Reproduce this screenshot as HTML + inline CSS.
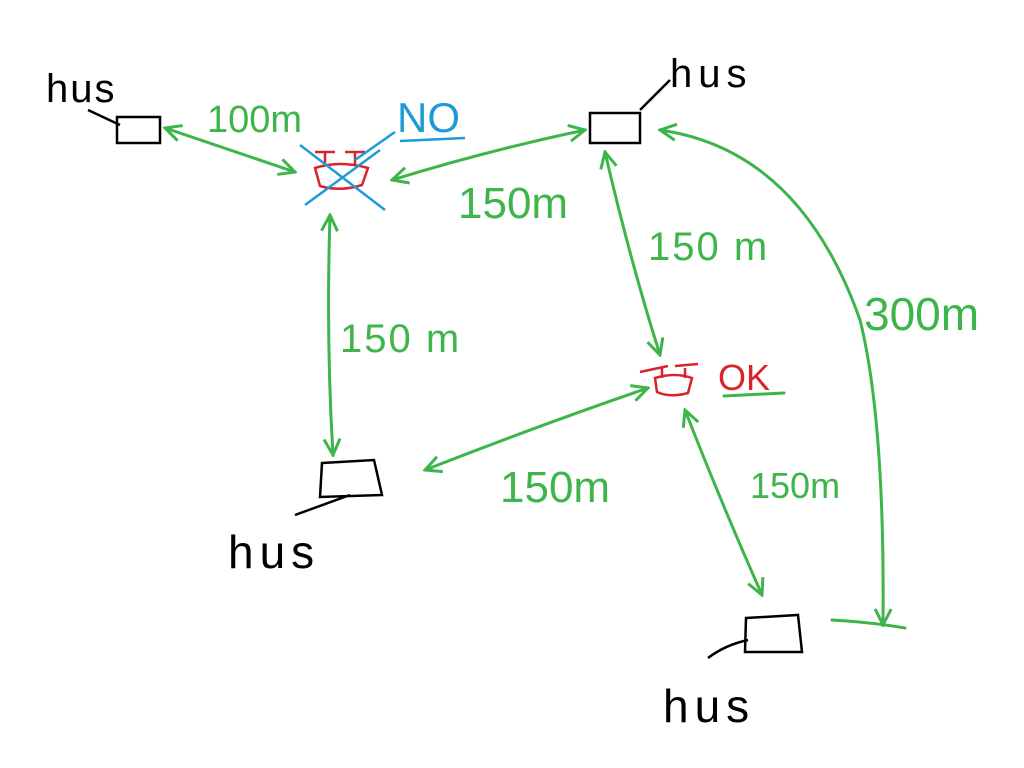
<!DOCTYPE html>
<html><head><meta charset="utf-8"><style>
html,body{margin:0;padding:0;background:#fff;width:1024px;height:768px;overflow:hidden}
text{font-family:"Liberation Sans",sans-serif}
</style></head><body>
<svg width="1024" height="768" viewBox="0 0 1024 768" xmlns="http://www.w3.org/2000/svg">
<defs>
<marker id="a" viewBox="0 0 20 20" refX="18" refY="10" markerWidth="20" markerHeight="20" markerUnits="userSpaceOnUse" orient="auto-start-reverse">
<path d="M2,2 L18,10 L2,18" fill="none" stroke="#3db54a" stroke-width="3"/>
</marker>
</defs>
<g fill="none" stroke="#3db54a" stroke-width="3" stroke-linecap="round">
<path d="M165,128 Q230,150 295,172" marker-start="url(#a)" marker-end="url(#a)"/>
<path d="M392,180 Q490,150 585,130" marker-start="url(#a)" marker-end="url(#a)"/>
<path d="M605,152 Q630,260 660,355" marker-start="url(#a)" marker-end="url(#a)"/>
<path d="M330,215 Q326,340 333,455" marker-start="url(#a)" marker-end="url(#a)"/>
<path d="M425,470 Q540,425 648,388" marker-start="url(#a)" marker-end="url(#a)"/>
<path d="M685,410 Q720,500 762,595" marker-start="url(#a)" marker-end="url(#a)"/>
<path d="M660,130 Q800,150 860,320 Q885,420 883,625" marker-start="url(#a)" marker-end="url(#a)"/>
<path d="M832,620 Q870,622 905,628"/>
<path d="M724,396 L784,393"/>
</g>
<g fill="none" stroke="#000" stroke-width="2.5">
<rect x="117" y="117" width="43" height="26"/>
<rect x="590" y="113" width="50" height="30"/>
<path d="M322,463 L374,460 L382,495 L320,497 Z"/>
<path d="M746,618 L798,615 L802,652 L745,652 Z"/>
<path d="M88,110 L120,125"/>
<path d="M640,110 L670,80"/>
<path d="M295,515 L350,495"/>
<path d="M708,658 Q725,645 748,640"/>
</g>
<g fill="none" stroke="#d9232a" stroke-width="2.5">
<path d="M315,168 Q340,160 368,168 L362,185 Q340,192 320,186 Z"/>
<path d="M325,152 L325,164 M355,152 L355,164 M315,152 L335,152 M345,152 L365,152"/>
<path d="M655,378 Q675,372 692,378 L688,393 Q670,398 657,392 Z"/>
<path d="M662,368 L662,378 M685,368 L685,378 M640,372 L668,366 M675,366 L698,364"/>
</g>
<g fill="none" stroke="#1e9bd7" stroke-width="2.5">
<path d="M300,145 L385,210 M305,205 L380,150 M355,160 L395,132 M400,141 L465,138"/>
</g>
<g font-size="40">
<text x="46" y="102" fill="#000" letter-spacing="2">hus</text>
<text x="670" y="87" fill="#000" letter-spacing="6">hus</text>
<text x="228" y="568" fill="#000" font-size="46" letter-spacing="6">hus</text>
<text x="663" y="722" fill="#000" font-size="46" letter-spacing="6">hus</text>
<text x="207" y="132" fill="#3db54a" font-size="38">100m</text>
<text x="458" y="218" fill="#3db54a" font-size="44">150m</text>
<text x="648" y="260" fill="#3db54a" font-size="40" letter-spacing="2">150 m</text>
<text x="340" y="352" fill="#3db54a" font-size="40" letter-spacing="2">150 m</text>
<text x="864" y="330" fill="#3db54a" font-size="46">300m</text>
<text x="500" y="502" fill="#3db54a" font-size="44">150m</text>
<text x="750" y="498" fill="#3db54a" font-size="36">150m</text>
<text x="397" y="132" fill="#1e9bd7" font-size="42">NO</text>
<text x="718" y="390" fill="#d9232a" font-size="36">OK</text>
</g>
</svg>
</body></html>
